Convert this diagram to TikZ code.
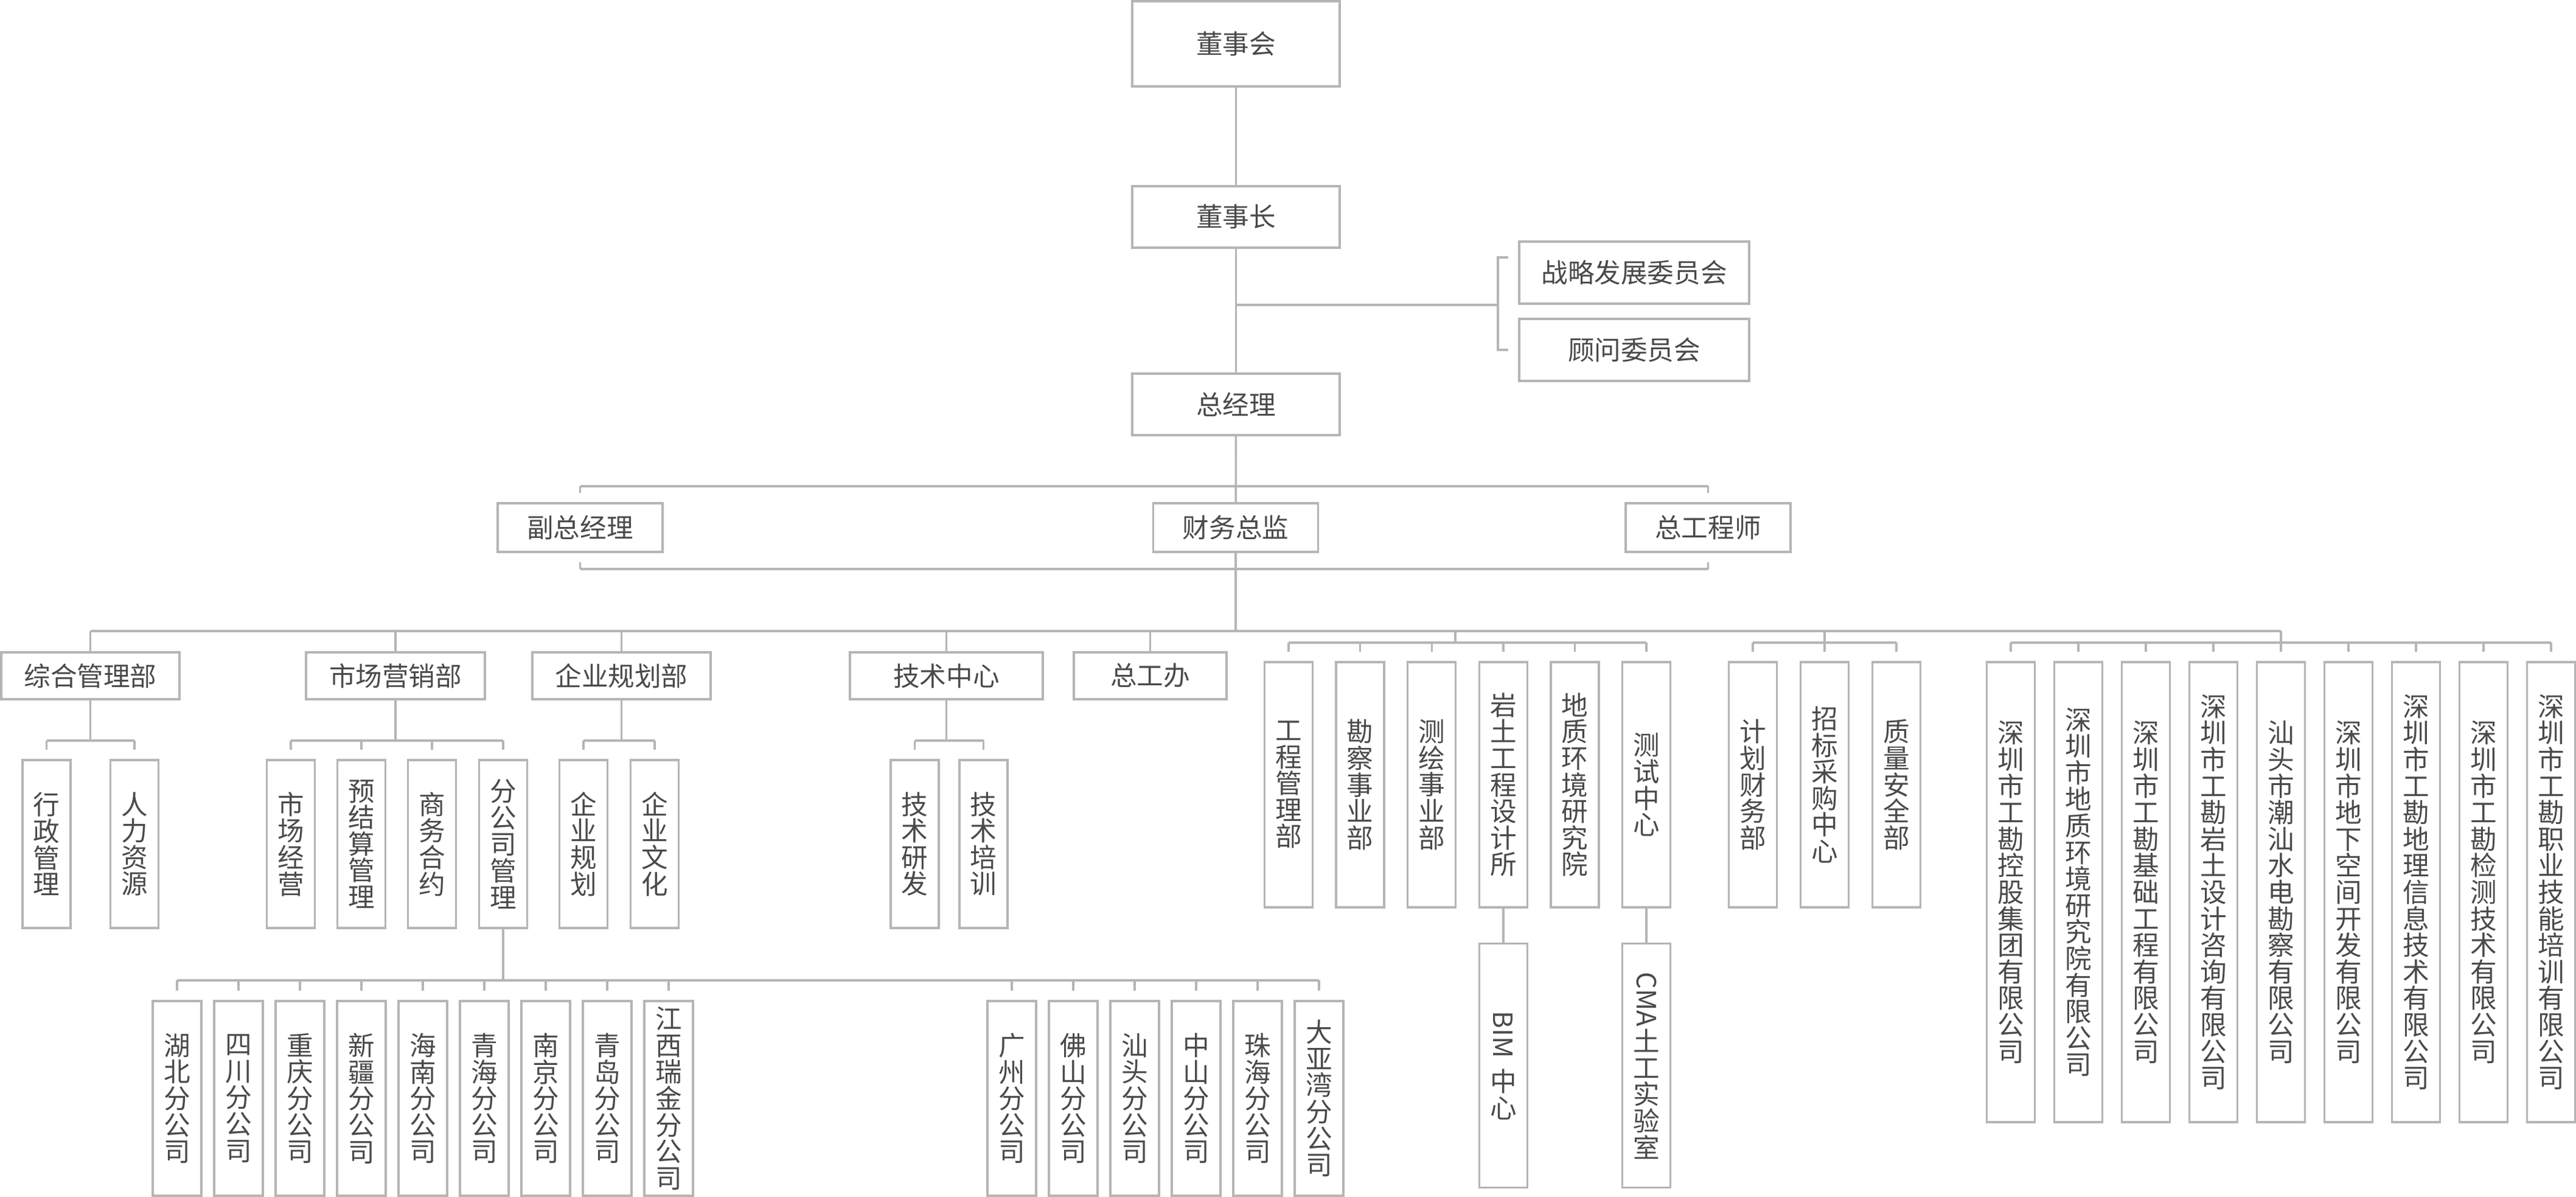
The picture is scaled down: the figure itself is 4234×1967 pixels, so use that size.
\documentclass[tikz,border=0pt]{standalone}
\usepackage{fontspec}
\usepackage{graphicx}
\setmainfont{Noto Sans CJK SC}
\usetikzlibrary{positioning, calc}
\XeTeXlinebreaklocale "zh"
\XeTeXlinebreakskip=0pt plus 1pt
\definecolor{boxgray}{HTML}{B5B5B5}
\definecolor{labelgray}{HTML}{4A4A4A}
\tikzset{
  box/.style={draw=boxgray, line width=0.85pt, fill=white, text=labelgray, inner sep=0pt, font=\fontsize{10.9pt}{10.9pt}\selectfont},
  vbox/.style={box, text width=14pt, align=center},
  conn/.style={draw=boxgray, line width=0.85pt},
  stub/.style={conn, shorten >=3.75pt}
}

\begin{document}
\begin{tikzpicture}[x=0.25pt, y=-0.25pt]
  \useasboundingbox (0,0) rectangle (4234,1967);

  % top of the chart
  \node[box, minimum width=85.25pt, minimum height=35pt] (dsh) at (2031.5,72) {董事会};
  \node[box, minimum width=85.25pt, minimum height=25.25pt] (dsz) at (2031.5,356.5) {董事长};
  \node[box, minimum width=85.25pt, minimum height=25.25pt] (zjl) at (2031.5,664.5) {总经理};
  \node[box, minimum width=94.5pt, minimum height=25.5pt] (zlwy) at (2686,448) {战略发展委员会};
  \node[box, minimum width=94.5pt, minimum height=25.5pt] (gwwy) at (2686,575) {顾问委员会};
  \foreach \nm/\cx/\txt in {fzjl/953.5/副总经理, cwzj/2031/财务总监, zgcs/2807.5/总工程师}
    \node[box, minimum width=67.75pt, minimum height=20pt] (\nm) at (\cx,867) {\txt};

  % departments
  \foreach \nm/\cx/\w/\txt in {zhgl/148.5/73.25pt/综合管理部, scyx/650/73.5pt/市场营销部,
      qygh/1021.5/73.25pt/企业规划部, jszx/1555.5/79.25pt/技术中心, zgb/1890.5/62.75pt/总工办}
    \node[box, minimum width=\w, minimum height=19.25pt] (\nm) at (\cx,1110.5) {\txt};

  \foreach \nm/\cx/\txt in {xzgl/76.5/行政管理, rlzy/221/人力资源, scjy/478/市场经营, yjsgl/594/预结算管理,
      swhy/710/商务合约, fgsgl/827/分公司管理, qyghx/959/企业规划, qywh/1076/企业文化,
      jsyf/1503.5/技术研发, jspx/1616.5/技术培训}
    \node[vbox, minimum width=19.75pt, minimum height=69pt] (\nm) at (\cx,1387) {\txt};

  % branch offices
  \foreach \txt [count=\i from 0] in {湖北分公司, 四川分公司, 重庆分公司, 新疆分公司, 海南分公司,
      青海分公司, 南京分公司, 青岛分公司, 江西瑞金分公司}
    \node[vbox, minimum width=20pt, minimum height=80pt] (fa\i) at ({291+101*\i},1805) {\txt};
  \foreach \txt [count=\i from 0] in {广州分公司, 佛山分公司, 汕头分公司, 中山分公司, 珠海分公司, 大亚湾分公司}
    \node[vbox, minimum width=20pt, minimum height=80pt] (fb\i) at ({1663+101*\i},1805) {\txt};

  % engineering units
  \foreach \txt [count=\i from 0] in {工程管理部, 勘察事业部, 测绘事业部, 岩土工程设计所, 地质环境研究院, 测试中心}
    \node[vbox, minimum width=19.75pt, minimum height=100.75pt] (gc\i) at ({2118+117.6*\i},1289.5) {\txt};
  \node[vbox, minimum width=19.75pt, minimum height=100.25pt, below=14pt of gc3] (bim) {\rotatebox{-90}{BIM\ }\\中心};
  \node[vbox, minimum width=19.75pt, minimum height=100.25pt, below=14pt of gc5] (cma) {\rotatebox{-90}{CMA}\\土工实验室};

  \foreach \txt [count=\i from 0] in {计划财务部, 招标采购中心, 质量安全部}
    \node[vbox, minimum width=19.75pt, minimum height=100.75pt] (jh\i) at ({2881+118*\i},1289.5) {\txt};

  % subsidiaries
  \foreach \txt [count=\i from 0] in {深圳市工勘控股集团有限公司, 深圳市地质环境研究院有限公司, 深圳市工勘基础工程有限公司,
      深圳市工勘岩土设计咨询有限公司, 汕头市潮汕水电勘察有限公司, 深圳市地下空间开发有限公司,
      深圳市工勘地理信息技术有限公司, 深圳市工勘检测技术有限公司, 深圳市工勘职业技能培训有限公司}
    \node[vbox, minimum width=19.75pt, minimum height=189pt] (sz\i) at ({3305+111*\i},1466) {\txt};

  % buses
  \coordinate (wmid) at (2462,501);
  \coordinate (wtop) at (2479,423);
  \coordinate (wbot) at (2479,575);
  \coordinate (fbus) at (0,799);
  \coordinate (fbk) at (0,935);
  \coordinate (mbus) at (0,1037);
  \coordinate (gbus) at (0,1056);
  \coordinate (gcjoin) at (2392,1056);
  \coordinate (sbus) at (0,1217);
  \coordinate (bbus) at (0,1611);

  % main line
  \draw[conn] (dsh) -- (dsz);
  \draw[conn] (dsz) -- (zjl);
  \draw[conn] (zjl) -- (cwzj);
  \draw[conn] (cwzj.south) -- (cwzj.south |- mbus);
  \draw[conn] (dsz.south |- wmid) -- (wmid);
  \draw[conn] (wtop) -- ++(-17,0) |- (wbot);

  % deputies
  \draw[conn] (fzjl.north |- fbus) -- (zgcs.north |- fbus);
  \draw[conn] (fzjl.south |- fbk) -- (zgcs.south |- fbk);
  \foreach \nm in {fzjl, zgcs} {
    \draw[stub] (\nm.north |- fbus) -- (\nm.north);
    \draw[stub] (\nm.south |- fbk) -- (\nm.south);
  }

  % departments
  \draw[conn] (zhgl.north |- mbus) -- (sz4.north |- mbus);
  \foreach \nm in {zhgl, scyx, qygh, jszx, zgb}
    \draw[conn] (\nm.north |- mbus) -- (\nm.north);
  \foreach \p/\a/\b in {zhgl/xzgl/rlzy, scyx/scjy/fgsgl, qygh/qyghx/qywh, jszx/jsyf/jspx} {
    \draw[conn] (\p.south) -- (\p.south |- sbus);
    \draw[conn] (\a.north |- sbus) -- (\b.north |- sbus);
  }
  \foreach \c in {xzgl, rlzy, scjy, yjsgl, swhy, fgsgl, qyghx, qywh, jsyf, jspx}
    \draw[stub] (\c.north |- sbus) -- (\c.north);

  % branch offices
  \draw[conn] (fgsgl.south) -- (fgsgl.south |- bbus);
  \draw[conn] (fa0.north |- bbus) -- (fb5.north |- bbus);
  \foreach \c in {fa0, fa1, fa2, fa3, fa4, fa5, fa6, fa7, fa8, fb0, fb1, fb2, fb3, fb4, fb5}
    \draw[stub] (\c.north |- bbus) -- (\c.north);

  % engineering units
  \draw[conn] (gcjoin |- mbus) -- (gcjoin);
  \draw[conn] (gc0.north |- gbus) -- (gc5.north |- gbus);
  \draw[conn] (gc3) -- (bim);
  \draw[conn] (gc5) -- (cma);

  \draw[conn] (jh1.north |- mbus) -- (jh1.north |- gbus);
  \draw[conn] (jh0.north |- gbus) -- (jh2.north |- gbus);

  % subsidiaries
  \draw[conn] (sz0.north |- gbus) -- (sz8.north |- gbus);
  \draw[stub] (sz4.north |- mbus) -- (sz4.north);
  \foreach \c in {gc0, gc1, gc2, gc3, gc4, gc5, jh0, jh1, jh2, sz0, sz1, sz2, sz3, sz5, sz6, sz7, sz8}
    \draw[stub] (\c.north |- gbus) -- (\c.north);
\end{tikzpicture}
\end{document}
